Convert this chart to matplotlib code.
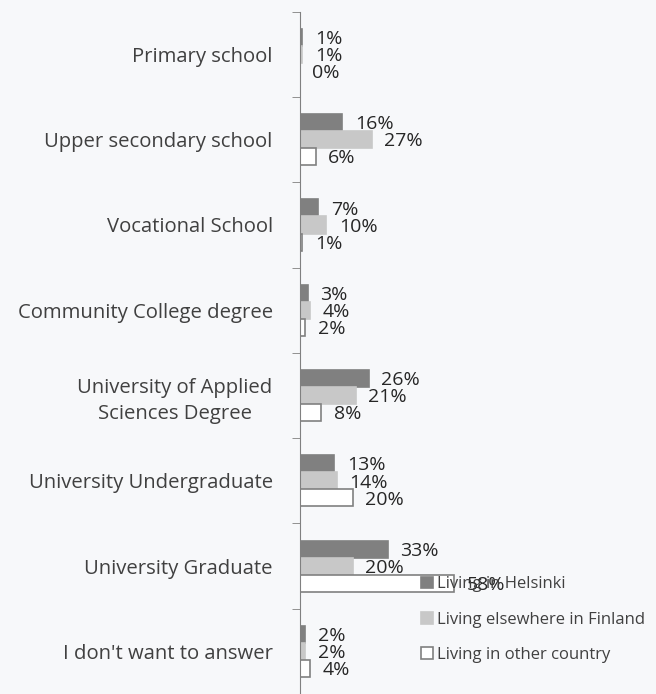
import matplotlib.pyplot as plt
import numpy as np

plt.rcParams['font.family'] = ['Open Sans', 'DejaVu Sans']

categories = ["Primary school", "Upper secondary school", "Vocational School",
              "Community College degree", "University of Applied\nSciences Degree",
              "University Undergraduate", "University Graduate",
              "I don't want to answer"]
helsinki = [1, 16, 7, 3, 26, 13, 33, 2]
elsewhere = [1, 27, 10, 4, 21, 14, 20, 2]
other = [0, 6, 1, 2, 8, 20, 58, 4]
series_names = ["Living in Helsinki", "Living elsewhere in Finland", "Living in other country"]

bg = '#f7f8fa'
fig = plt.figure(figsize=(6.56, 6.94), dpi=100, facecolor=bg)
ax = fig.add_axes([0.457, 0.0, 0.543, 0.983])
ax.set_facecolor(bg)

y = np.arange(len(categories))
h = 0.2
styles = [dict(color='#808080', edgecolor='#808080'),
          dict(color='#c8c8c8', edgecolor='#c8c8c8'),
          dict(color='white', edgecolor='#808080')]

for k, vals in enumerate([helsinki, elsewhere, other]):
    pos = y - h + k * h
    bars = ax.barh(pos, vals, height=h, linewidth=1.2, label=series_names[k], **styles[k])
    for b, v in zip(bars, vals):
        ax.text(v + 4.7, b.get_y() + h / 2 + 0.02, f"{v}%", va='center', ha='left',
                fontsize=14, color='#262626')

ax.set_xlim(0, 134)
ax.set_ylim(len(categories) - 0.5, -0.5)
ax.set_xticks([])
ax.set_yticks(y)
ax.set_yticklabels(categories, fontsize=14.6, color='#404040')
ax.set_yticks(np.arange(-0.5, len(categories), 1), minor=True)
ax.tick_params(axis='y', which='major', length=0, pad=19.5)
ax.tick_params(axis='y', which='minor', length=6, color='#808080')
for lbl in ax.get_yticklabels():
    lbl.set_multialignment('center')
    lbl.set_linespacing(1.4)

for s in ['top', 'right', 'bottom']:
    ax.spines[s].set_visible(False)
ax.spines['left'].set_color('#808080')

leg = fig.legend(loc='upper left', bbox_to_anchor=(0.632, 0.179), frameon=False,
                 fontsize=12, handlelength=0.7, handleheight=0.7, handletextpad=0.25,
                 labelspacing=1.15, borderaxespad=0)
for t in leg.get_texts():
    t.set_color('#404040')

fig.savefig('out.png', dpi=100, facecolor=bg)
